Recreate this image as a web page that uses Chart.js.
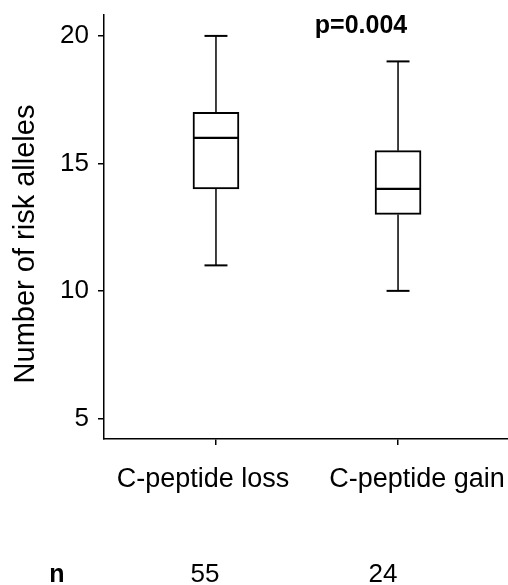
<!DOCTYPE html>
<html>
<head>
<meta charset="utf-8">
<script src="https://cdn.jsdelivr.net/npm/chart.js@4.4.1/dist/chart.umd.min.js"></script>
<style>
  html, body { margin: 0; padding: 0; background: #fff; }
</style>
</head>
<body>
<canvas id="boxChart" width="508" height="585"></canvas>
<script>
// box plot values
const groups = ['C-peptide loss', 'C-peptide gain'];
const groupX = [1, 2];
const whiskerLow = [11, 10];
const boxLow = [14, 13];
const medians = [16, 14];
const boxHigh = [17, 15.5];
const whiskerHigh = [20, 19];
const nCounts = [55, 24];
const yTicks = [5, 10, 15, 20];
const yTitle = 'Number of risk alleles';
const pValue = 'p=0.004';

const FONT = "'Liberation Sans', Arial, sans-serif";

// whiskers, medians and the text around the plot
const boxExtras = {
    id: 'boxExtras',
    afterDatasetsDraw(chart) {
        const { ctx, scales: { x, y } } = chart;
        ctx.save();
        ctx.strokeStyle = '#000';

        function seg(x1, y1, x2, y2, w) {
            ctx.lineWidth = w;
            ctx.beginPath();
            ctx.moveTo(x1, y1);
            ctx.lineTo(x2, y2);
            ctx.stroke();
        }

        groupX.forEach((gx, i) => {
            const cx = x.getPixelForValue(gx);
            const capL = x.getPixelForValue(gx - 0.063);
            const capR = x.getPixelForValue(gx + 0.063);
            const boxL = x.getPixelForValue(gx - 0.125);
            const boxR = x.getPixelForValue(gx + 0.125);

            seg(cx, y.getPixelForValue(boxHigh[i]), cx, y.getPixelForValue(whiskerHigh[i]), 1.5);
            seg(cx, y.getPixelForValue(boxLow[i]), cx, y.getPixelForValue(whiskerLow[i]), 1.5);
            seg(capL, y.getPixelForValue(whiskerHigh[i]), capR, y.getPixelForValue(whiskerHigh[i]), 2);
            seg(capL, y.getPixelForValue(whiskerLow[i]), capR, y.getPixelForValue(whiskerLow[i]), 2);
            seg(boxL, y.getPixelForValue(medians[i]), boxR, y.getPixelForValue(medians[i]), 2.2);
        });

        ctx.fillStyle = '#000';
        ctx.textBaseline = 'alphabetic';
        ctx.textAlign = 'center';

        // p-value above the second box
        ctx.font = 'bold 25px ' + FONT;
        ctx.fillText(pValue, 361, 33);

        // category labels sit a little apart from their tick marks
        const labelShift = [-13, 19];
        ctx.font = '27px ' + FONT;
        groupX.forEach((gx, i) => {
            ctx.fillText(groups[i], x.getPixelForValue(gx) + labelShift[i], 487);
        });

        // n row
        ctx.font = 'bold 25px ' + FONT;
        ctx.fillText('n', 57, 582);
        const countShift = [-11, -15];
        ctx.font = '26px ' + FONT;
        groupX.forEach((gx, i) => {
            ctx.fillText(String(nCounts[i]), x.getPixelForValue(gx) + countShift[i], 582);
        });

        // y axis title
        ctx.save();
        ctx.translate(33.5, 244);
        ctx.rotate(-Math.PI / 2);
        ctx.font = '29px ' + FONT;
        ctx.fillText(yTitle, 0, 0);
        ctx.restore();

        ctx.restore();
    }
};

function initBoxChart() {
    const ctx = document.getElementById('boxChart').getContext('2d');

    new Chart(ctx, {
        type: 'bar',
        data: {
            datasets: [{
                data: groupX.map((gx, i) => ({ x: gx, y: [boxLow[i], boxHigh[i]] })),
                backgroundColor: '#fff',
                borderColor: '#000',
                borderWidth: 2,
                borderSkipped: false,
                barThickness: 46,
            }]
        },
        options: {
            responsive: false,
            animation: false,
            layout: { padding: 0 },
            plugins: {
                legend: { display: false },
                tooltip: { enabled: false },
            },
            scales: {
                x: {
                    type: 'linear',
                    offset: false,
                    min: 0.385,
                    max: 2.604,
                    afterBuildTicks: (scale) => {
                        scale.ticks = groupX.map(v => ({ value: v }));
                    },
                    afterFit: (scale) => {
                        scale.height = 146;
                        scale.paddingLeft = 0;
                        scale.paddingRight = 0;
                    },
                    ticks: { display: false },
                    grid: { offset: false, drawOnChartArea: false, tickLength: 6, color: '#000', lineWidth: 1.5 },
                    border: { color: '#000', width: 1.5 },
                },
                y: {
                    min: 4.19,
                    max: 20.82,
                    afterBuildTicks: (scale) => {
                        scale.ticks = yTicks.map(v => ({ value: v }));
                    },
                    afterFit: (scale) => {
                        scale.width = 104;
                        scale.paddingTop = 15;
                        scale.paddingBottom = 0;
                    },
                    ticks: {
                        color: '#000',
                        font: { family: FONT, size: 26 },
                        padding: 9,
                    },
                    grid: { drawOnChartArea: false, tickLength: 6, color: '#000', lineWidth: 1.5 },
                    border: { color: '#000', width: 1.5 },
                },
            },
        },
        plugins: [boxExtras]
    });
}

document.addEventListener('DOMContentLoaded', initBoxChart);
</script>
</body>
</html>
